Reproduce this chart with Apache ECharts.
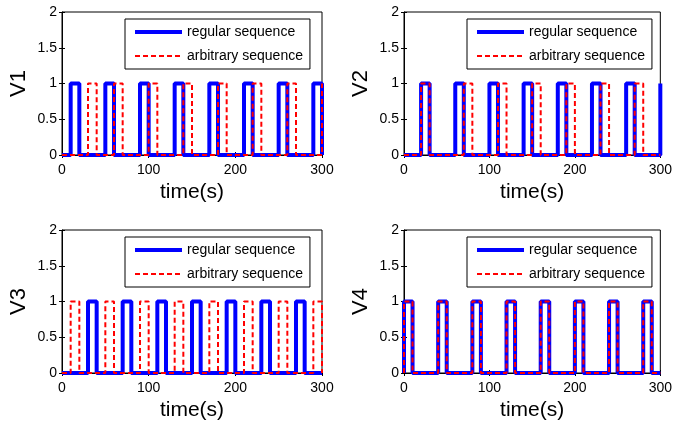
<!DOCTYPE html>
<html>
<head>
<meta charset="utf-8">
<title>V1-V4 sequences</title>
<script src="https://cdn.jsdelivr.net/npm/echarts@6/dist/echarts.min.js"></script>
<style>
  html, body { margin: 0; padding: 0; background: #fff; }
  #main { width: 675px; height: 426px; }
</style>
</head>
<body>
<div id="main"></div>
<script>
// pulse windows [on, off] in seconds
var v1Regular   = [[10,20],[50,60],[90,100],[130,140],[170,180],[210,220],[250,260],[290,300]];
var v1Arbitrary = [[30,40],[60,70],[100,110],[140,150],[180,190],[220,230],[260,270],[300,300]];
var v2Regular   = [[20,30],[60,70],[100,110],[140,150],[180,190],[220,230],[260,270],[300,300]];
var v2Arbitrary = [[20,30],[70,80],[110,120],[150,160],[190,200],[230,240],[270,280]];
var v3Regular   = [[30,40],[70,80],[110,120],[150,160],[190,200],[230,240],[270,280]];
var v3Arbitrary = [[10,20],[50,60],[90,100],[130,140],[170,180],[210,220],[250,260],[290,300]];
var v4Regular   = [[0,10],[40,50],[80,90],[120,130],[160,170],[200,210],[240,250],[280,290]];
var v4Arbitrary = [[0,10],[40,50],[80,90],[120,130],[160,170],[200,210],[240,250],[280,290]];

var panelNames  = ['V1', 'V2', 'V3', 'V4'];
var seriesNames = ['regular sequence', 'arbitrary sequence'];
var xName = 'time(s)';
var xRange = [0, 300];
var yRange = [0, 2];

var regular   = [v1Regular, v2Regular, v3Regular, v4Regular];
var arbitrary = [v1Arbitrary, v2Arbitrary, v3Arbitrary, v4Arbitrary];

var font = 'Liberation Sans, Arial, sans-serif';
var blueLine = { color: '#0000ff', width: 4 };
var redLine  = { color: '#ff0000', width: 2, type: [5, 3] };

// pulses -> points for a step:'end' line
function toSteps(pulses) {
    var pts = [[xRange[0], 0]];
    pulses.forEach(function (p) {
        pts.push([p[0], 1]);
        if (p[1] > p[0]) pts.push([p[1], 0]);
    });
    var last = pts[pts.length - 1];
    if (last[0] < xRange[1]) pts.push([xRange[1], last[1]]);
    return pts;
}

var grids = [
    { left: 62,  right: 353, top: 12,  bottom: 271 },
    { left: 404, right: 12,  top: 12,  bottom: 271 },
    { left: 62,  right: 353, top: 230, bottom: 53 },
    { left: 404, right: 12,  top: 230, bottom: 53 }
];
var legendPos = [
    { left: 125, top: 19 },
    { left: 467, top: 19 },
    { left: 125, top: 237 },
    { left: 467, top: 237 }
];

var xAxes = [], yAxes = [], series = [], legends = [];

grids.forEach(function (g, i) {
    g.show = true;
    g.borderColor = '#000';
    g.borderWidth = 1;
    g.backgroundColor = '#fff';

    xAxes.push({
        gridIndex: i, type: 'value', min: xRange[0], max: xRange[1], interval: 100,
        name: xName, nameLocation: 'middle', nameGap: 27,
        nameTextStyle: { fontFamily: font, fontSize: 21, color: '#000' },
        axisLine: { show: true, lineStyle: { color: '#000', width: 1 } },
        axisTick: { show: true, inside: true, length: 3, lineStyle: { color: '#000' } },
        axisLabel: { fontFamily: font, fontSize: 14, color: '#000', margin: 8 },
        splitLine: { show: false }
    });
    yAxes.push({
        gridIndex: i, type: 'value', min: yRange[0], max: yRange[1], interval: 0.5,
        name: panelNames[i], nameLocation: 'middle', nameGap: 32, nameRotate: 90,
        nameTextStyle: { fontFamily: font, fontSize: 22, color: '#000' },
        axisLine: { show: true, lineStyle: { color: '#000', width: 1 } },
        axisTick: { show: true, inside: true, length: 3, lineStyle: { color: '#000' } },
        axisLabel: { fontFamily: font, fontSize: 14, color: '#000', margin: 5 },
        splitLine: { show: false }
    });

    series.push({
        name: seriesNames[0], type: 'line', step: 'end',
        xAxisIndex: i, yAxisIndex: i,
        data: toSteps(regular[i]),
        showSymbol: false, symbol: 'none', clip: false,
        lineStyle: blueLine,
        itemStyle: { color: '#0000ff' },
        z: 2
    });
    series.push({
        name: seriesNames[1], type: 'line', step: 'end',
        xAxisIndex: i, yAxisIndex: i,
        data: toSteps(arbitrary[i]),
        showSymbol: false, symbol: 'none', clip: false,
        lineStyle: redLine,
        itemStyle: { color: '#ff0000' },
        z: 3
    });

    legends.push({
        left: legendPos[i].left, top: legendPos[i].top,
        orient: 'vertical',
        data: [
            { name: seriesNames[0], lineStyle: blueLine },
            { name: seriesNames[1], lineStyle: redLine }
        ],
        selectedMode: false,
        itemWidth: 47, itemHeight: 14, itemGap: 10,
        itemStyle: { opacity: 0 },
        padding: [6, 7, 6, 8],
        backgroundColor: '#fff', borderColor: '#000', borderWidth: 1,
        textStyle: { fontFamily: font, fontSize: 14, color: '#000' }
    });
});

// mirrored ticks on the top and right box edges
grids.forEach(function (g, i) {
    xAxes.push({
        gridIndex: i, type: 'value', position: 'top', min: xRange[0], max: xRange[1], interval: 100,
        axisLine: { show: false },
        axisTick: { show: true, inside: true, length: 3, lineStyle: { color: '#000' } },
        axisLabel: { show: false }, splitLine: { show: false }
    });
    yAxes.push({
        gridIndex: i, type: 'value', position: 'right', min: yRange[0], max: yRange[1], interval: 0.5,
        axisLine: { show: false },
        axisTick: { show: true, inside: true, length: 3, lineStyle: { color: '#000' } },
        axisLabel: { show: false }, splitLine: { show: false }
    });
});

var myChart = echarts.init(document.getElementById('main'));
myChart.setOption({
    animation: false,
    backgroundColor: '#fff',
    grid: grids,
    xAxis: xAxes,
    yAxis: yAxes,
    legend: legends,
    series: series
});
</script>
</body>
</html>
